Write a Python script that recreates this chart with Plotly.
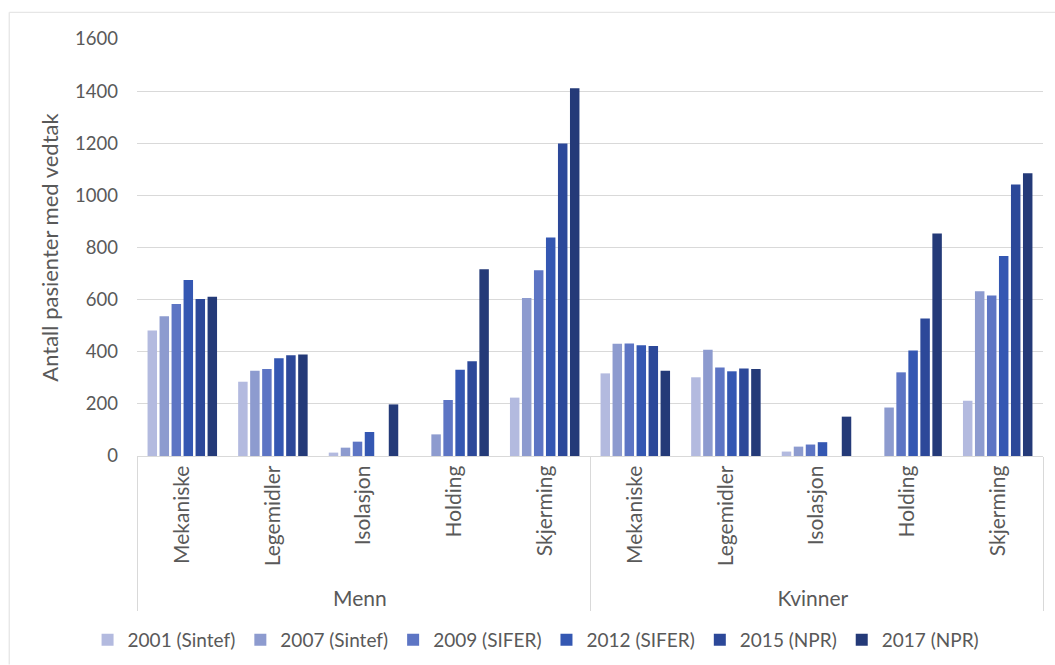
import plotly.graph_objects as go

# Measures and sex groups shown along the x axis
groups = ["Menn"] * 5 + ["Kvinner"] * 5
measures = ["Mekaniske", "Legemidler", "Isolasjon", "Holding", "Skjerming"] * 2

# Number of patients with a decision, per survey year (None = not reported)
s2001 = [482, 285, 13, None, 224, 317, 302, 17, None, 212]
s2007 = [536, 327, 32, 83, 606, 431, 408, 36, 186, 632]
s2009 = [583, 334, 55, 215, 713, 432, 340, 44, 321, 616]
s2012 = [675, 375, 92, 331, 838, 425, 325, 53, 405, 767]
s2015 = [602, 387, None, 364, 1199, 422, 336, None, 528, 1042]
s2017 = [611, 389, 198, 717, 1411, 327, 334, 151, 854, 1085]

series_names = ["2001 (Sintef)", "2007 (Sintef)", "2009 (SIFER)",
                "2012 (SIFER)", "2015 (NPR)", "2017 (NPR)"]
series_values = [s2001, s2007, s2009, s2012, s2015, s2017]
series_colors = ["#b3badf", "#8d9bcf", "#5d75c4", "#3457b2", "#2c4899", "#243a78"]

FONT = "Lato"
TEXT = "#595959"
GRID = "#d9d9d9"

fig = go.Figure()
for name, vals, col in zip(series_names, series_values, series_colors):
    fig.add_trace(go.Bar(
        x=[groups, measures], y=vals, name=name,
        marker=dict(color=col, line=dict(width=0)),
    ))

fig.update_layout(
    width=1055, height=665,
    margin=dict(l=137, r=12, t=39, b=209),
    paper_bgcolor="white", plot_bgcolor="white",
    barmode="group", bargap=0.205, bargroupgap=0.21,
    font=dict(family=FONT, color=TEXT, size=18),
    showlegend=True,
    legend=dict(orientation="h", xref="container", yref="container",
                x=0.083, xanchor="left", y=0.0376, yanchor="middle",
                font=dict(size=19, color=TEXT), traceorder="normal",
                itemwidth=30, bgcolor="rgba(0,0,0,0)"),
    xaxis=dict(
        type="multicategory", tickangle=-90, automargin=False,
        showline=True, linecolor=GRID, linewidth=1.3,
        showdividers=True, dividercolor=GRID, dividerwidth=1.3,
        ticks="", showgrid=False,
        tickfont=dict(size=21, color=TEXT),
    ),
    yaxis=dict(
        range=[0, 1600], tickvals=[0, 200, 400, 600, 800, 1000, 1200, 1400, 1600],
        automargin=False,
        showgrid=True, gridcolor=GRID, gridwidth=1.3,
        zeroline=False, showline=False, ticks="",
        ticklabelstandoff=18,
        tickfont=dict(size=18.5, color=TEXT),
        title=dict(text="Antall pasienter med vedtak", font=dict(size=22, color=TEXT),
                   standoff=10),
    ),
)

# Light frame along the top and left edges of the chart area
fig.add_shape(type="line", xref="paper", yref="paper",
              x0=-0.141, x1=1.02, y0=1.064, y1=1.064,
              line=dict(color="#e6e6e6", width=1.3), layer="below")
fig.add_shape(type="line", xref="paper", yref="paper",
              x0=-0.141, x1=-0.141, y0=1.064, y1=-0.5,
              line=dict(color="#e6e6e6", width=1.3), layer="below")

fig.write_html("out.html")
